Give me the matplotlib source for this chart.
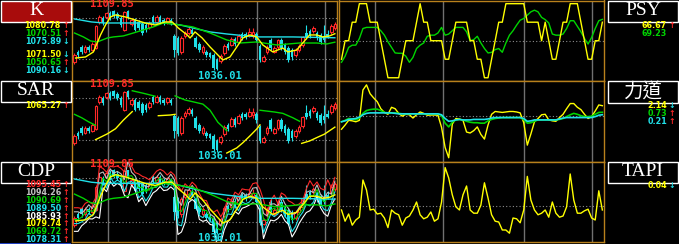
import numpy as np
import matplotlib
matplotlib.use("Agg")
from matplotlib import pyplot as plt
from matplotlib.patches import Rectangle

# ---- candle data (74 trading days) ----
opens = np.array([1046.4, 1058.6, 1064.7, 1058.6, 1064.7, 1061.0, 1063.4, 1095.2, 1100.0, 1101.3,
                  1106.1, 1108.6, 1104.9, 1100.0, 1085.4, 1108.6, 1092.7, 1097.6, 1095.2, 1092.7,
                  1091.5, 1089.1, 1101.3, 1095.2, 1101.3, 1097.6, 1095.2, 1097.6, 1078.1, 1075.6,
                  1058.6, 1078.1, 1081.7, 1085.4, 1075.6, 1068.3, 1058.6, 1058.6, 1057.3, 1054.9,
                  1048.8, 1047.6, 1057.3, 1068.3, 1067.1, 1074.4, 1070.8, 1080.5, 1080.5, 1078.1,
                  1079.3, 1080.5, 1065.9, 1047.6, 1058.6, 1073.2, 1058.6, 1064.7, 1073.2, 1067.1,
                  1063.4, 1061.0, 1054.9, 1061.0, 1067.1, 1081.7, 1084.2, 1084.2, 1081.7, 1079.3,
                  1078.1, 1080.5, 1083.0, 1087.8])
closes = np.array([1054.9, 1054.9, 1058.6, 1064.7, 1061.0, 1068.3, 1090.3, 1101.3, 1093.9, 1106.1,
                   1100.0, 1102.5, 1100.0, 1091.5, 1107.4, 1101.3, 1097.6, 1085.4, 1087.8, 1081.7,
                   1085.4, 1093.9, 1095.2, 1101.3, 1095.2, 1093.9, 1100.0, 1093.9, 1061.0, 1057.3,
                   1075.6, 1081.7, 1086.6, 1080.5, 1064.7, 1061.0, 1064.7, 1054.9, 1052.5, 1039.0,
                   1037.8, 1053.7, 1065.9, 1063.4, 1074.4, 1068.3, 1078.1, 1075.6, 1076.9, 1083.0,
                   1083.0, 1073.2, 1048.8, 1052.5, 1064.7, 1063.4, 1063.4, 1073.2, 1063.4, 1058.6,
                   1048.8, 1052.5, 1061.0, 1065.9, 1076.9, 1076.9, 1078.1, 1087.8, 1075.6, 1070.8,
                   1073.2, 1076.9, 1090.3, 1092.7])
highs = np.array([1057.3, 1061.0, 1067.1, 1067.1, 1067.1, 1070.8, 1091.5, 1103.7, 1102.5, 1107.4,
                  1108.6, 1109.85, 1107.4, 1102.5, 1108.6, 1109.5, 1100.0, 1100.0, 1097.6, 1095.2,
                  1093.9, 1096.4, 1103.7, 1103.7, 1103.7, 1100.0, 1101.3, 1100.0, 1080.5, 1078.1,
                  1078.1, 1084.2, 1089.1, 1087.8, 1078.1, 1070.8, 1067.1, 1061.0, 1058.6, 1057.3,
                  1051.2, 1056.1, 1068.3, 1070.8, 1076.9, 1076.9, 1080.5, 1083.0, 1083.0, 1087.8,
                  1087.8, 1083.0, 1068.3, 1054.9, 1067.1, 1075.6, 1065.9, 1074.4, 1075.6, 1069.5,
                  1065.9, 1063.4, 1063.4, 1068.3, 1078.1, 1091.5, 1086.6, 1090.3, 1084.2, 1081.7,
                  1091.5, 1085.4, 1092.7, 1095.2])
lows = np.array([1043.9, 1051.2, 1056.1, 1057.3, 1058.6, 1059.8, 1062.2, 1092.7, 1091.5, 1098.8,
                 1097.6, 1100.0, 1097.6, 1089.1, 1084.2, 1098.8, 1090.3, 1084.2, 1085.4, 1079.3,
                 1083.0, 1086.6, 1092.7, 1093.9, 1092.7, 1091.5, 1092.7, 1091.5, 1052.5, 1054.9,
                 1056.1, 1075.6, 1079.3, 1078.1, 1063.4, 1058.6, 1056.1, 1052.5, 1051.2, 1036.6,
                 1036.01, 1045.1, 1054.9, 1061.0, 1065.9, 1065.9, 1069.5, 1073.2, 1074.4, 1076.9,
                 1075.6, 1070.8, 1046.4, 1046.4, 1056.1, 1061.0, 1057.3, 1062.2, 1061.0, 1056.1,
                 1046.4, 1048.8, 1052.5, 1058.6, 1064.7, 1074.4, 1075.6, 1081.7, 1073.2, 1068.3,
                 1070.8, 1075.6, 1080.5, 1085.4])
days = np.arange(len(closes))

# ---- moving averages ----
ma_short_x = [0.3, 3.1, 5.3, 7.3, 8.7, 10.1, 11.5, 14.2, 17.0, 19.8, 22.6, 25.4, 27.4, 29.1, 31.6,
              32.4, 33.8, 35.8, 38.0, 40.2, 41.6, 43.6, 45.5, 47.2, 49.2, 51.1, 52.8, 55.6, 58.4,
              59.8, 62.3, 64.0, 65.9, 67.9, 69.6, 71.5, 73.0]
ma_short = [1051.2, 1052.5, 1058.6, 1079.3, 1091.5, 1101.3, 1103.7, 1101.3, 1097.6, 1093.9, 1091.5,
            1095.2, 1095.2, 1087.8, 1079.3, 1075.6, 1083.0, 1075.6, 1064.7, 1054.9, 1048.8, 1052.5,
            1064.7, 1075.6, 1079.3, 1076.9, 1067.1, 1058.6, 1063.4, 1058.6, 1061.0, 1069.5, 1079.3,
            1079.3, 1076.9, 1078.1, 1080.8]
ma_mid_x = [0, 2.5, 4.5, 6.4, 9.2, 10.9, 13.7, 16.5, 19.3, 22.1, 24.9, 27.7, 33.2, 38.0, 42.7,
            46.4, 51.1, 56.7, 63.1, 67.9, 70.7, 73.0]
ma_mid = [1081.7, 1076.9, 1072.0, 1070.8, 1075.6, 1076.9, 1078.1, 1081.7, 1085.4, 1089.1, 1093.9,
          1092.7, 1089.1, 1081.7, 1073.2, 1069.5, 1070.8, 1067.1, 1069.5, 1069.5, 1068.3, 1070.5]
ma_long_x = [0, 4.7, 8.2, 17.7, 25.4, 29.6, 33.2, 38.0, 42.7, 48.3, 52.0, 61.2, 73.0]
ma_long = [1098.8, 1095.2, 1093.9, 1093.9, 1093.9, 1091.5, 1087.8, 1083.0, 1080.5, 1078.1, 1076.9,
           1076.9, 1075.9]

# ---- SAR segments (nan breaks a segment) ----
sar_dn_x = [0, 2, 4, 5.9, np.nan, 16.2, 19.4, 22.6, np.nan,
            28.2, 31.0, 33.2, 36.0, 38.0, 40.2, 42.2, 42.7, np.nan, 52.0, 56.1, 58.4, 61.2, 63.1]
sar_dn = [1080.5, 1076.5, 1071.5, 1067.5, np.nan, 1108.6, 1105.5, 1102.1, np.nan,
          1102.5, 1097.6, 1095.5, 1092.7, 1085.4, 1071.1, 1063.1, 1061.0, np.nan,
          1085.4, 1083.3, 1081.7, 1076.5, 1072.3]
sar_up_x = [5.9, 9.2, 11.5, 13.7, 16.2, np.nan, 23.5, 26.8, 28.2, np.nan,
            42.7, 45.5, 47.2, 49.2, 51.1, 52.0, np.nan, 63.7, 65.9, 67.9, 70.1, 73.0]
sar_up = [1050.4, 1057.3, 1063.4, 1073.6, 1083.8, np.nan, 1078.9, 1079.7, 1080.5, np.nan,
          1034.5, 1040.6, 1046.7, 1054.9, 1063.1, 1068.0, np.nan, 1046.0, 1048.8, 1052.8, 1057.0, 1065.3]

# ---- CDP lines ----
cdp_ah = [1066.2, 1066.2, 1065.3, 1071.1, 1073.3, 1070.4, 1077.8, 1112.9, 1110.8, 1106.5,
          1113.2, 1112.6, 1113.6, 1111.1, 1107.1, 1126.3, 1113.4, 1106.1, 1104.6, 1101.9,
          1100.4, 1097.8, 1102.5, 1107.7, 1109.9, 1107.7, 1103.3, 1107.1, 1103.3, 1091.8,
          1085.1, 1093.4, 1089.4, 1095.2, 1091.4, 1082.4, 1075.1, 1074.2, 1064.3, 1061.1,
          1063.7, 1055.9, 1063.2, 1077.2, 1074.5, 1083.9, 1080.9, 1087.6, 1086.7, 1086.4,
          1093.6, 1094.6, 1087.3, 1075.0, 1060.1, 1074.2, 1080.5, 1071.1, 1083.0, 1080.5,
          1074.1, 1072.0, 1068.9, 1070.4, 1074.4, 1087.6, 1097.0, 1090.6, 1095.5, 1088.2,
          1086.3, 1097.9, 1088.5, 1100.7]
cdp_nh = [1061.6, 1061.6, 1059.8, 1064.1, 1069.6, 1065.2, 1073.8, 1105.0, 1106.8, 1099.4,
          1110.4, 1105.5, 1107.4, 1104.9, 1098.2, 1119.6, 1106.6, 1102.5, 1093.3, 1093.9,
          1089.7, 1090.8, 1098.8, 1100.7, 1106.2, 1100.7, 1098.1, 1104.3, 1098.1, 1075.0,
          1068.9, 1086.6, 1086.0, 1091.5, 1085.3, 1072.0, 1067.1, 1070.2, 1059.1, 1056.2,
          1049.4, 1045.4, 1059.2, 1072.6, 1068.3, 1079.9, 1073.8, 1083.6, 1080.5, 1081.2,
          1088.5, 1089.1, 1079.3, 1059.8, 1056.8, 1070.2, 1070.7, 1067.7, 1079.3, 1070.7,
          1065.3, 1058.6, 1059.8, 1066.5, 1070.8, 1083.6, 1085.4, 1083.6, 1092.1, 1081.1,
          1077.5, 1083.6, 1081.8, 1096.4]
cdp_mid = [1052.8, 1052.8, 1055.5, 1060.1, 1063.5, 1061.9, 1066.8, 1083.6, 1099.8, 1095.5,
           1104.6, 1101.6, 1103.7, 1101.3, 1093.7, 1101.9, 1102.7, 1096.4, 1088.8, 1089.7,
           1084.5, 1086.9, 1092.7, 1096.7, 1100.1, 1096.7, 1094.8, 1098.5, 1094.8, 1063.8,
           1061.9, 1071.4, 1080.8, 1085.4, 1081.7, 1067.7, 1062.9, 1063.2, 1055.8, 1053.7,
           1043.0, 1040.7, 1052.2, 1063.8, 1064.7, 1072.9, 1069.9, 1076.6, 1076.9, 1077.8,
           1082.7, 1082.4, 1075.1, 1053.1, 1051.6, 1063.2, 1065.9, 1062.5, 1070.8, 1065.9,
           1060.7, 1052.5, 1054.3, 1059.5, 1064.7, 1074.2, 1079.9, 1079.6, 1086.9, 1077.2,
           1072.9, 1077.2, 1078.7, 1088.5]
cdp_nl = [1048.2, 1048.2, 1050.0, 1053.1, 1059.8, 1056.7, 1062.8, 1075.7, 1095.8, 1088.4,
          1101.8, 1094.5, 1097.6, 1095.1, 1084.8, 1095.2, 1095.9, 1092.8, 1077.5, 1081.7,
          1073.8, 1079.9, 1089.0, 1089.7, 1096.4, 1089.7, 1089.6, 1095.7, 1089.6, 1047.0,
          1045.7, 1064.6, 1077.4, 1081.7, 1075.6, 1057.3, 1054.9, 1059.2, 1050.6, 1048.8,
          1028.7, 1030.2, 1048.2, 1059.2, 1058.5, 1068.9, 1062.8, 1072.6, 1070.7, 1072.6,
          1077.6, 1076.9, 1067.1, 1037.9, 1048.3, 1059.2, 1056.1, 1059.1, 1067.1, 1056.1,
          1051.9, 1039.1, 1045.2, 1055.6, 1061.1, 1070.2, 1068.3, 1072.6, 1083.5, 1070.1,
          1064.1, 1062.9, 1072.0, 1084.2]
cdp_al = [1039.4, 1039.4, 1045.7, 1049.1, 1053.7, 1053.4, 1055.8, 1054.3, 1088.8, 1084.5,
          1096.0, 1090.6, 1093.9, 1091.5, 1080.3, 1077.5, 1092.0, 1086.7, 1073.0, 1077.5,
          1068.6, 1076.0, 1082.9, 1085.7, 1090.3, 1085.7, 1086.3, 1089.9, 1086.3, 1035.8,
          1038.7, 1049.4, 1072.2, 1075.6, 1072.0, 1053.0, 1050.7, 1052.2, 1047.3, 1046.3,
          1022.3, 1025.5, 1041.2, 1050.4, 1054.9, 1061.9, 1058.9, 1065.6, 1067.1, 1069.2,
          1071.8, 1070.2, 1062.9, 1031.2, 1043.1, 1052.2, 1051.3, 1053.9, 1058.6, 1051.3,
          1047.3, 1033.0, 1039.7, 1048.6, 1055.0, 1060.8, 1062.8, 1068.6, 1078.3, 1066.2,
          1059.5, 1056.5, 1068.9, 1076.3]

# ---- right side indicators ----
psy = [33.33, 50, 50, 66.67, 66.67, 83.33, 83.33, 83.33, 66.67, 66.67,
       66.67, 50, 33.33, 16.67, 16.67, 16.67, 16.67, 33.33, 50, 50,
       50, 66.67, 83.33, 66.67, 66.67, 50, 50, 50, 50, 33.33,
       33.33, 50, 66.67, 66.67, 66.67, 66.67, 50, 50, 33.33, 33.33,
       16.67, 16.67, 33.33, 50, 66.67, 66.67, 83.33, 83.33, 83.33, 83.33,
       83.33, 83.33, 66.67, 66.67, 66.67, 66.67, 50, 66.67, 50, 33.33,
       33.33, 50, 66.67, 66.67, 83.33, 83.33, 83.33, 66.67, 50, 33.33,
       33.33, 50, 50, 66.67]
psy_ma = [30.6, 36, 44, 46, 46, 52, 61, 62, 62, 62,
          62, 59, 55, 49, 44, 39, 38.7, 38.7, 36, 30.6,
          35, 43, 46, 48, 54, 55, 55, 57, 62, 55,
          56, 59, 62, 62, 62, 58, 50, 51, 54, 48,
          43, 39, 39.5, 42, 43, 39.6, 48, 55, 59, 64,
          68.5, 70, 73, 76, 77.5, 76, 71, 69, 66, 56,
          55, 55, 56, 61, 68, 68, 63, 58, 52, 47,
          53, 61, 68, 69.23]
force_1 = [-2.9, -2.0, -1.0, -1.1, -1.3, -1.0, 5.5, 6.6, 4.7, 3.8,
           3.0, 1.5, 0.7, 0.3, 1.8, 1.5, 0.5, -0.1, 0.3, 0.2,
           -0.5, 0.2, 0.8, 0.5, 0.1, 0.15, 0.15, 0.1, -2.5, -6.8,
           -9.0, -1.8, -0.6, -0.7, -1.0, -3.5, -3.7, -3.2, -2.4, -4.0,
           -5.0, -2.0, 0.3, 0.9, 0.8, 0.7, 0.8, 0.9, 0.9, 0.8,
           0.6, -1.5, -6.3, -3.9, -1.3, -0.6, 0.2, 0.3, -0.9, -1.1,
           -1.2, -0.4, 0.3, 1.5, 2.6, 2.6, 1.8, 1.3, 0.3, -0.6,
           -0.2, 1.0, 2.3, 2.14]
force_2 = [-1.3, -1.0, -0.6, -0.7, -0.9, -0.5, 0.5, 1.1, 1.3, 1.4,
           1.4, 1.1, 0.7, 0.6, 0.6, 0.6, 0.5, 0.4, 0.4, 0.4,
           0.4, 0.4, 0.4, 0.4, 0.4, 0.4, 0.4, 0.4, 0.0, -1.6,
           -2.4, -1.4, -0.9, -0.8, -0.9, -1.2, -1.4, -1.5, -1.5, -1.6,
           -1.6, -1.1, -0.8, -0.6, -0.5, -0.4, -0.4, -0.4, -0.4, -0.4,
           -0.4, -0.8, -1.6, -1.5, -1.2, -0.9, -0.9, -0.9, -0.9, -0.9,
           -0.9, -0.8, -0.6, -0.2, 0.2, 0.5, 0.3, 0.0, -0.2, -0.2,
           -0.1, 0.3, 0.7, 0.73]
force_3 = [-1.3, -1.1, -0.8, -0.7, -0.6, -0.3, 0.2, 0.5, 0.6, 0.6,
           0.6, 0.6, 0.6, 0.6, 0.6, 0.5, 0.4, 0.4, 0.4, 0.4,
           0.4, 0.4, 0.4, 0.4, 0.4, 0.4, 0.4, 0.4, 0.2, -0.6,
           -1.2, -1.1, -0.9, -0.8, -0.9, -0.9, -0.9, -0.8, -0.8, -0.8,
           -0.8, -0.7, -0.5, -0.4, -0.4, -0.4, -0.4, -0.4, -0.4, -0.4,
           -0.4, -0.6, -1.2, -1.1, -0.9, -0.9, -0.9, -0.9, -0.9, -0.9,
           -0.9, -0.7, -0.5, -0.4, -0.4, -0.4, -0.4, -0.4, -0.4, -0.4,
           -0.4, -0.2, 0.1, 0.21]
tapi = [0.040, 0.026, 0.035, 0.021, 0.0275, 0.031, 0.0775, 0.065, 0.040, 0.041,
        0.035, 0.036, 0.030, 0.018, 0.040, 0.036, 0.034, 0.021, 0.030, 0.0325,
        0.040, 0.050, 0.034, 0.029, 0.031, 0.0375, 0.026, 0.029, 0.050, 0.093,
        0.080, 0.059, 0.044, 0.040, 0.059, 0.070, 0.040, 0.036, 0.036, 0.046,
        0.074, 0.055, 0.034, 0.026, 0.025, 0.015, 0.015, 0.011, 0.030, 0.029,
        0.024, 0.040, 0.082, 0.0525, 0.040, 0.034, 0.036, 0.040, 0.031, 0.050,
        0.036, 0.031, 0.0325, 0.044, 0.085, 0.0525, 0.036, 0.036, 0.039, 0.041,
        0.030, 0.0275, 0.064, 0.040]

# ---- legend texts ----
k_values = ["1080.78", "1070.51", "1075.89", "1071.50", "1050.65", "1090.16"]
k_arrows = ["↑", "↑", "↓", "↓", "↑", "↓"]
sar_values = ["1065.27"]
cdp_values = ["1095.45", "1094.26", "1090.69", "1089.50", "1085.93", "1079.74", "1069.72", "1078.31"]
psy_values = ["66.67", "69.23"]
force_values = ["2.14", "0.73", "0.21"]
force_arrows = ["↓", "↑", "↑"]
tapi_values = ["0.04"]
high_label = "1109.85"
low_label = "1036.01"

RED = "#ff2828"
CYAN = "#20e0e8"
YELLOW = "#ffff00"
GREEN = "#00d400"
WHITE = "#ffffff"
GRAY = "#c0c0c0"
BORDER = "#b8801c"
GRID = "#707070"
DOTS = "#8c8c8c"

W, H = 679, 244
fig = plt.figure(figsize=(W / 100, H / 100), dpi=100, facecolor="black")


def panel(x0, y0, x1, y1, ylim, dotted):
    ax = fig.add_axes([x0 / W, 1 - y1 / H, (x1 - x0) / W, (y1 - y0) / H])
    ax.set_facecolor("black")
    for s in ax.spines.values():
        s.set_color(BORDER)
        s.set_linewidth(1.0)
    ax.set_xticks([])
    ax.set_yticks([])
    ax.set_xlim(-0.84, 73.46)
    ax.set_ylim(*ylim)
    for gx in [9.5, 28.5, 51.1, 70.1]:
        ax.axvline(gx, color=GRID, lw=1.0, zorder=1)
    for d in dotted:
        ax.axhline(d, color=DOTS, lw=0.8, ls=(0, (1, 2)), zorder=1)
    return ax


def candles(ax):
    up = closes >= opens
    dn = ~up
    ax.vlines(days[up], lows[up], highs[up], color=RED, lw=0.8, zorder=2)
    ax.vlines(days[dn], lows[dn], highs[dn], color=CYAN, lw=0.8, zorder=2)
    ax.bar(days[up], np.maximum(closes[up] - opens[up], 0.6), bottom=opens[up], width=0.72,
           facecolor="black", edgecolor=RED, lw=0.8, zorder=3)
    ax.bar(days[dn], np.maximum(opens[dn] - closes[dn], 0.6), bottom=closes[dn], width=0.72,
           color=CYAN, lw=0, zorder=3)


def mas(ax):
    ax.plot(ma_long_x, ma_long, color=CYAN, lw=1.0, zorder=5)
    ax.plot(ma_mid_x, ma_mid, color=GREEN, lw=1.0, zorder=5)
    ax.plot(ma_short_x, ma_short, color=YELLOW, lw=1.0, zorder=5)


# K panel
k_ax = panel(71.5, 0.5, 336.5, 80.5, (1023.8, 1121.3), [1100, 1050])
candles(k_ax)
mas(k_ax)

# SAR panel
sar_ax = panel(71.5, 80.5, 336.5, 161.5, (1024.4, 1120.8), [1100, 1050])
candles(sar_ax)
sar_ax.plot(sar_dn_x, sar_dn, color=GREEN, lw=1.0, zorder=5)
sar_ax.plot(sar_up_x, sar_up, color=YELLOW, lw=1.0, zorder=5)

# CDP panel
cdp_ax = panel(71.5, 161.5, 336.5, 242, (1027.3, 1118.7), [1100, 1050])
candles(cdp_ax)
cdp_ax.plot(days, cdp_al, color=WHITE, lw=0.8, zorder=4)
cdp_ax.plot(days, cdp_nl, color=CYAN, lw=0.8, zorder=4)
cdp_ax.plot(days, cdp_mid, color=GREEN, lw=0.8, zorder=4)
cdp_ax.plot(days, cdp_nh, color=GRAY, lw=0.8, zorder=4)
cdp_ax.plot(days, cdp_ah, color=RED, lw=0.8, zorder=4)
mas(cdp_ax)

# PSY panel
psy_ax = panel(338.5, 0.5, 604, 80.5, (14.2, 86.2), [50])
psy_ax.plot(days, psy_ma, color=GREEN, lw=1.0, zorder=4)
psy_ax.plot(days, psy, color=YELLOW, lw=1.0, zorder=5)

# force panel
force_ax = panel(338.5, 80.5, 604, 161.5, (-9.8, 7.53), [0])
force_ax.plot(days, force_1, color=YELLOW, lw=1.0, zorder=4)
force_ax.plot(days, force_2, color=GREEN, lw=1.2, zorder=5)
force_ax.plot(days, force_3, color=CYAN, lw=1.2, zorder=6)

# TAPI panel
tapi_ax = panel(338.5, 161.5, 604, 242, (0, 0.1006), [0.045])
tapi_ax.plot(days, tapi, color=YELLOW, lw=1.0, zorder=4)

# overlay in pixel coordinates for labels and legend values
ov = fig.add_axes([0, 0, 1, 1])
ov.set_xlim(0, W)
ov.set_ylim(H, 0)
ov.axis("off")
ov.patch.set_alpha(0)

boxes = [(0.5, 0.5, "K", "#a80c0c"), (0.5, 80.5, "SAR", "black"), (0.5, 161.5, "CDP", "black"),
         (607.5, 0.5, "PSY", "black"), (607.5, 81.0, "力道", "black"), (607.5, 161.5, "TAPI", "black")]
for bx, by, name, fc in boxes:
    ov.add_patch(Rectangle((bx, by), 70.5, 21.5, facecolor=fc, edgecolor=WHITE, lw=1.0))
    ov.text(bx + 35.5, by + 10, name, color=WHITE, ha="center", va="center", fontsize=14,
            family=["Liberation Serif", "Noto Sans CJK TC", "DejaVu Sans"])
ov.add_patch(Rectangle((0, 242.5), 71, 1.5, color="#2040c0", lw=0))

small = dict(fontsize=5.8, family="DejaVu Sans", weight="bold", va="center")
mono = dict(fontsize=7.5, family="DejaVu Sans Mono", weight="bold", va="center")


def value(x, y, s, color, arrow=None, acolor=RED):
    ov.text(x, y, s, color=color, ha="right", **small)
    if arrow:
        ov.text(x + 1.0, y, arrow, color=acolor, ha="left", **small)


k_colors = [YELLOW, GREEN, CYAN, YELLOW, GREEN, CYAN]
k_y = [25.0, 33.0, 41.0, 54.2, 62.2, 70.2]
for s, c, a, y in zip(k_values, k_colors, k_arrows, k_y):
    value(61, y, s, c, a, RED if a == "↑" else CYAN)

value(61, 106, sar_values[0], YELLOW, "↑")

cdp_colors = [RED, GRAY, GREEN, CYAN, WHITE, YELLOW, GREEN, CYAN]
for j, (s, c) in enumerate(zip(cdp_values, cdp_colors)):
    value(61, 184.5 + 7.9 * j, s, c, "↑")

value(667, 25.3, psy_values[0], YELLOW, "↑")
value(667, 33.3, psy_values[1], GREEN)
for s, c, a, y in zip(force_values, [YELLOW, GREEN, CYAN], force_arrows, [105.2, 113.2, 121.2]):
    value(667, y, s, c, a, RED if a == "↑" else CYAN)
value(667, 185.7, tapi_values[0], YELLOW, "↓", CYAN)

for y in [4.2, 84.2, 164.2]:
    ov.text(111.5, y, high_label, color=RED, ha="center", **mono)
for y in [76.0, 156.0, 237.8]:
    ov.text(220, y, low_label, color=CYAN, ha="center", **mono)

fig.savefig("out.png", dpi=100, facecolor="black")
